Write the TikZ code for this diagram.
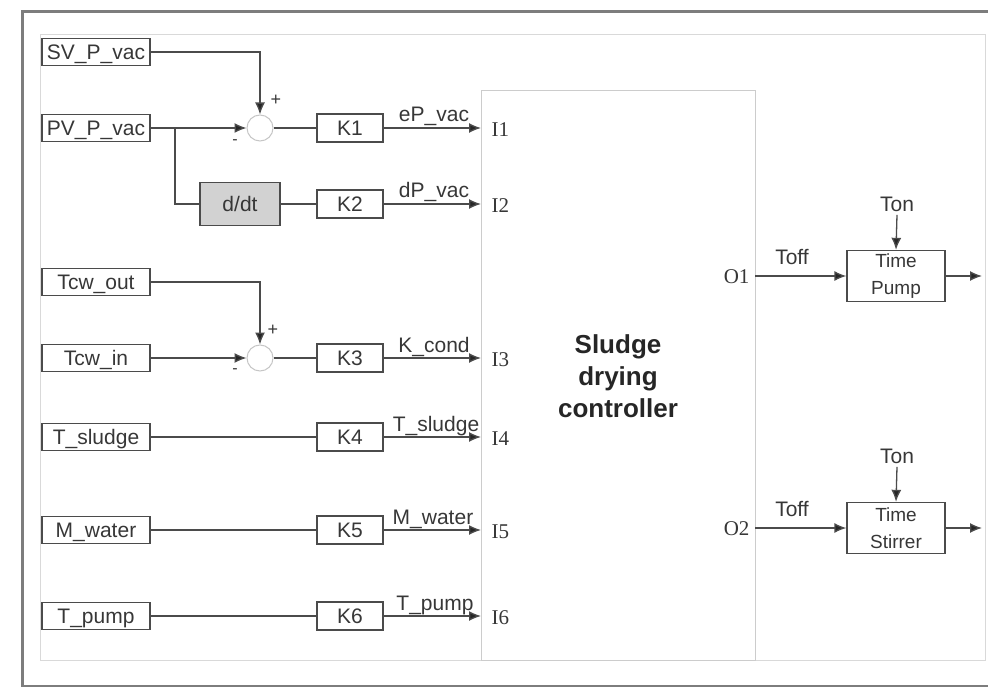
\documentclass[tikz,border=0pt]{standalone}
\usepackage{fontspec}
\setmainfont{Liberation Serif}
\setsansfont{Liberation Sans}
\usetikzlibrary{arrows.meta,positioning}
\definecolor{wiregray}{RGB}{75,75,75}
\definecolor{textgray}{RGB}{55,55,55}
\definecolor{framegray}{RGB}{125,125,125}

\begin{document}
\begin{tikzpicture}[x=1pt, y=-1pt, every node/.style={font=\sffamily\fontsize{21}{22}\selectfont, text=textgray}]
  \tikzset{
    sigbox/.style={draw=wiregray, line width=1.3pt, minimum width=108pt, minimum height=27pt, inner sep=0pt, text height=15pt, text depth=0pt},
    gainbox/.style={draw=wiregray, line width=1.3pt, minimum width=66pt, minimum height=28pt, inner sep=0pt, text height=15pt, text depth=0pt},
    timebox/.style={draw=wiregray, line width=1.3pt, minimum width=98pt, minimum height=51pt, inner sep=0pt, align=center, font=\sffamily\fontsize{19}{27}\selectfont},
    sumnode/.style={circle, draw=gray!45, line width=1pt, minimum size=26pt, inner sep=0pt},
    wire/.style={draw=wiregray, line width=1.3pt},
    arr/.style={wire, -{Latex[length=12pt,width=10pt,fill=black!85]}},
    port/.style={font=\rmfamily\fontsize{21}{22}\selectfont},
    siglabel/.style={anchor=base, inner sep=0pt}
  }
  \useasboundingbox (0,0) rectangle (988,687);

  % frames
  \draw[framegray, line width=3pt] (988,12) -- (22,12) -- (22,687);
  \draw[framegray, line width=2pt] (22,686) -- (988,686);
  \draw[gray!30, line width=1pt] (40,35) rectangle (985,660);

  % controller block
  \node[draw=gray!40, line width=1pt, minimum width=274pt, minimum height=569pt, inner sep=0pt] (ctrl) at (618,375.5) {};
  \node[font=\sffamily\bfseries\fontsize{26}{32}\selectfont, align=center, text=black!85] (ctrltxt) at (618,376) {Sludge\\drying\\controller};
  \foreach \i/\y in {1/128,2/204,3/358,4/437,5/530,6/616} {
    \coordinate (I\i) at (481,\y);
    \node[port, anchor=west] (I\i lbl) at (488,\y+2) {I\i};
  }

  % inputs
  \node[sigbox] (SV) at (96,52) {SV\_P\_vac};
  \node[sigbox] (PV) at (96,128) {PV\_P\_vac};
  \node[sigbox] (TcwOut) at (96,282) {Tcw\_out};
  \node[sigbox] (TcwIn) at (96,358) {Tcw\_in};
  \node[sigbox] (Tsl) at (96,437) {T\_sludge};
  \node[sigbox] (Mw) at (96,530) {M\_water};
  \node[sigbox] (Tp) at (96,616) {T\_pump};

  % summing junctions and derivative
  \node[sumnode] (S1) at (260,128) {};
  \node[sumnode] (S2) at (260,358) {};
  \node[font=\sffamily\fontsize{18}{18}\selectfont] (S1p) at (276,100) {+};
  \node[font=\sffamily\fontsize{16}{18}\selectfont] (S1m) at (235,142) {-};
  \node[font=\sffamily\fontsize{18}{18}\selectfont] (S2p) at (273,330) {+};
  \node[font=\sffamily\fontsize{16}{18}\selectfont] (S2m) at (235,371) {-};
  \node[draw=wiregray, line width=1.3pt, fill=gray!35, minimum width=80pt, minimum height=43pt, inner sep=0pt] (ddt) at (240,204) {d/dt};
  \coordinate (br) at (175,128);

  % gains
  \foreach \i/\y in {1/128,2/204,3/358,4/437,5/530,6/616} {
    \node[gainbox] (K\i) at (350,\y) {K\i};
    \draw[arr] (K\i.east) -- (I\i);
  }
  \node[siglabel] (L1) at (434,122) {eP\_vac};
  \node[siglabel] (L2) at (434,198) {dP\_vac};
  \node[siglabel] (L3) at (434,352) {K\_cond};
  \node[siglabel] (L4) at (436,431) {T\_sludge};
  \node[siglabel] (L5) at (433,524) {M\_water};
  \node[siglabel] (L6) at (435,610) {T\_pump};

  % wiring
  \draw[arr] (SV.east) -| (S1.north);
  \draw[arr] (PV.east) -- (S1.west);
  \draw[wire] (br) |- (ddt.west);
  \draw[wire] (S1.east) -- (K1.west);
  \draw[wire] (ddt.east) -- (K2.west);
  \draw[arr] (TcwOut.east) -| (S2.north);
  \draw[arr] (TcwIn.east) -- (S2.west);
  \draw[wire] (S2.east) -- (K3.west);
  \draw[wire] (Tsl.east) -- (K4.west);
  \draw[wire] (Mw.east) -- (K5.west);
  \draw[wire] (Tp.east) -- (K6.west);

  % outputs
  \foreach \o/\y/\name/\txt in {1/276/TP/Pump,2/528/TS/Stirrer} {
    \coordinate (O\o) at (755,\y);
    \node[port, anchor=east] (O\o lbl) at (753,\y+1) {O\o};
    \node[timebox] (\name) at (896,\y) {Time\\\txt};
    \node (\name on) at (897,\y-72) {Ton};
    \node (\name off) at (792,\y-19) {Toff};
    \coordinate (\name out) at (982,\y);
    \draw[arr] (O\o) -- (\name.west);
    \draw[arr] (\name on.south) -- (\name.north);
    \draw[arr] (\name.east) -- (\name out);
  }
\end{tikzpicture}
\end{document}
